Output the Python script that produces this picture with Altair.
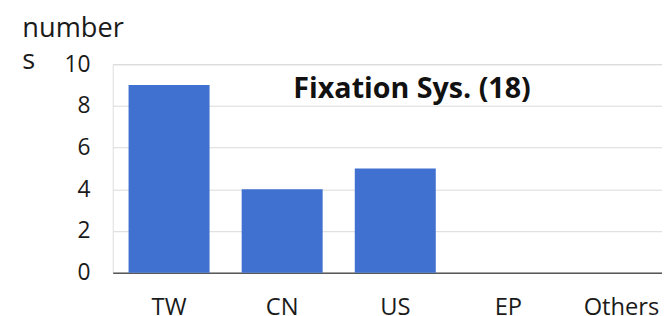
import altair as alt
import pandas as pd

categories = ["TW", "CN", "US", "EP", "Others"]
values = [9, 4, 5, 0, 0]
y_ticks = [0, 2, 4, 6, 8, 10]
panel_title = "Fixation Sys. (18)"
y_title = ["number", "s"]

df = pd.DataFrame({"cat": categories, "n": values})

FONT = "Open Sans"

x_enc = alt.X(
    "cat:N",
    sort=categories,
    scale=alt.Scale(paddingInner=0.284, paddingOuter=0.07, align=1),
    axis=alt.Axis(
        title=None, labelAngle=0, ticks=False, labelPadding=23,
        labelFontSize=24, labelFont=FONT, labelColor="#1a1a1a",
        domainColor="#595959", domainWidth=1.5, grid=False,
    ),
)
y_enc = alt.Y(
    "n:Q",
    scale=alt.Scale(domain=[0, 10], nice=False),
    axis=alt.Axis(
        values=y_ticks, ticks=False, domain=False, labelPadding=23,
        labelFontSize=23, labelFont=FONT, labelColor="#1a1a1a",
        gridColor="#d9d9d9", gridWidth=1,
        title=y_title, titleAngle=0, titleAlign="left", titleBaseline="alphabetic",
        titleX=-92, titleY=-28, titleFontSize=27.5, titleFont=FONT,
        titleFontWeight="normal", titleColor="#1a1a1a", titleLineHeight=32,
    ),
)

bars = alt.Chart(df).mark_bar(color="#4070D0").encode(x=x_enc, y=y_enc)

label = alt.Chart(pd.DataFrame({"t": [panel_title]})).mark_text(
    text=panel_title, font=FONT, fontSize=29, fontWeight="bold",
    baseline="alphabetic", align="center", dx=17, color="#111111",
).encode(x=alt.datum("US"), y=alt.datum(8.4))

chart = alt.layer(bars, label).properties(
    width=556, height=211,
    autosize=alt.AutoSizeParams(type="none"),
    padding={"left": 106, "top": 55, "right": 0, "bottom": 50},
).configure_view(stroke=None).configure(background="white")

chart.save("out.html", embed_options={"renderer": "svg", "actions": False})
